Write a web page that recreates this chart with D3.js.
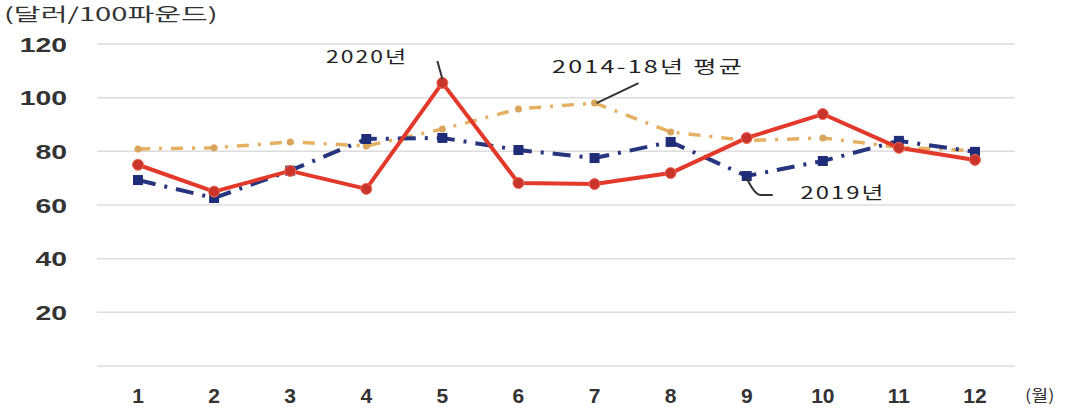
<!DOCTYPE html>
<html>
<head>
<meta charset="utf-8">
<script src="https://cdn.jsdelivr.net/npm/d3@7"></script>
<style>
  html, body { margin: 0; padding: 0; background: #fff; }
  svg { display: block; }
</style>
</head>
<body>
<svg id="chart" width="1074" height="408"></svg>
<script>
// Monthly prices, dollars per 100 pounds
const months = [1, 2, 3, 4, 5, 6, 7, 8, 9, 10, 11, 12];
const y2020 = [75, 65, 72.7, 66, 105.5, 68.2, 67.8, 71.9, 85, 93.9, 81.3, 76.8];
const y2019 = [69.3, 62.6, 72.8, 84.6, 85, 80.5, 77.5, 83.5, 70.8, 76.4, 83.9, 79.8];
const avg1418 = [80.9, 81.3, 83.5, 82, 88.3, 95.8, 98, 87.2, 84, 85, 81.5, 80.2];
const yTicks = [20, 40, 60, 80, 100, 120];
const gridTicks = [0, 20, 40, 60, 80, 100, 120];
const unitLabel = "(달러/100파운드)";
const monthUnit = "(월)";

const svg = d3.select("#chart");
const x = d3.scaleLinear().domain([1, 12]).range([138, 975]);
const y = d3.scaleLinear().domain([0, 120]).range([366, 44]);
const gridLeft = 97, gridRight = 1015;

const tickFont = "'Liberation Sans', Arial, sans-serif";
const krFont = "'Noto Sans CJK KR', 'Noto Sans', sans-serif";

// text placed at (px, py) and widened horizontally by sx
function wideText(g, px, py, sx, anchor, str) {
  return g.append("text")
    .attr("transform", `translate(${px},${py}) scale(${sx},1)`)
    .attr("text-anchor", anchor)
    .text(str);
}

// horizontal grid
svg.append("g").selectAll("line").data(gridTicks).join("line")
  .attr("x1", gridLeft).attr("x2", gridRight)
  .attr("y1", d => y(d)).attr("y2", d => y(d))
  .attr("stroke", "#dcdcdc").attr("stroke-width", 1.5);

// y tick labels
svg.append("g").selectAll("text").data(yTicks).join("text")
  .attr("transform", d => `translate(67,${y(d)}) scale(1.35,1)`)
  .attr("dy", "0.36em")
  .attr("text-anchor", "end")
  .attr("font-family", tickFont).attr("font-weight", "bold")
  .attr("font-size", 21)
  .attr("fill", "#333")
  .text(d => d);

// x tick labels
svg.append("g").selectAll("text").data(months).join("text")
  .attr("x", d => x(d)).attr("y", 403)
  .attr("text-anchor", "middle")
  .attr("font-family", tickFont).attr("font-weight", "bold")
  .attr("font-size", 21)
  .attr("fill", "#333")
  .text(d => d);

const unitG = svg.append("g").attr("font-family", krFont).attr("fill", "#333");
wideText(unitG.append("g").attr("font-size", 16), 1025, 401, 1.15, "start", monthUnit);
wideText(unitG.append("g").attr("font-size", 18), 4, 21, 1.62, "start", unitLabel);

const line = d3.line().x((d, i) => x(months[i])).y(d => y(d));

// 2014-18 average: dash-dot orange
svg.append("path").datum(avg1418)
  .attr("d", line).attr("fill", "none")
  .attr("stroke", "#e6b062").attr("stroke-width", 3.5)
  .attr("stroke-dasharray", "12,9,3,9")
  .attr("stroke-linecap", "butt");
svg.append("g").selectAll("circle").data(avg1418).join("circle")
  .attr("cx", (d, i) => x(months[i])).attr("cy", d => y(d))
  .attr("r", 3.5).attr("fill", "#d9a55a");

// 2019: navy dash-dot with squares
svg.append("path").datum(y2019)
  .attr("d", line).attr("fill", "none")
  .attr("stroke", "#26357e").attr("stroke-width", 4)
  .attr("stroke-dasharray", "18,9,3,9");
svg.append("g").selectAll("rect").data(y2019).join("rect")
  .attr("x", (d, i) => x(months[i]) - 5).attr("y", d => y(d) - 5)
  .attr("width", 10).attr("height", 10)
  .attr("fill", "#1f2c78");

// 2020: solid red with circles
svg.append("path").datum(y2020)
  .attr("d", line).attr("fill", "none")
  .attr("stroke", "#e2392a").attr("stroke-width", 4)
  .attr("stroke-linejoin", "round");
svg.append("g").selectAll("circle").data(y2020).join("circle")
  .attr("cx", (d, i) => x(months[i])).attr("cy", d => y(d))
  .attr("r", 5.5).attr("fill", "#c9352a")
  .attr("stroke", "#f06a5a").attr("stroke-width", 1);

// annotations with leader lines
const ann = svg.append("g").attr("font-family", krFont).attr("font-size", 17)
  .attr("letter-spacing", 1.5).attr("fill", "#222");

const p20 = [x(5), y(y2020[4])];
svg.append("line")
  .attr("x1", p20[0] - 5).attr("y1", p20[1] - 22)
  .attr("x2", p20[0]).attr("y2", p20[1] - 4)
  .attr("stroke", "#333").attr("stroke-width", 2);
wideText(ann, 367, 63, 1.35, "middle", "2020년");

const pAvg = [x(7), y(avg1418[6])];
svg.append("line")
  .attr("x1", pAvg[0] + 2).attr("y1", pAvg[1])
  .attr("x2", pAvg[0] + 44).attr("y2", pAvg[1] - 20)
  .attr("stroke", "#333").attr("stroke-width", 2);
wideText(ann, 648, 73, 1.48, "middle", "2014-18년 평균");

const p19 = [x(9), y(y2019[8])];
svg.append("path")
  .attr("d", `M${p19[0]},${p19[1] + 2} Q${p19[0] + 8},${p19[1] + 19} ${p19[0] + 14},${p19[1] + 19} L${p19[0] + 26},${p19[1] + 19}`)
  .attr("fill", "none").attr("stroke", "#333").attr("stroke-width", 2);
wideText(ann, 843, 199, 1.4, "middle", "2019년");
</script>
</body>
</html>
